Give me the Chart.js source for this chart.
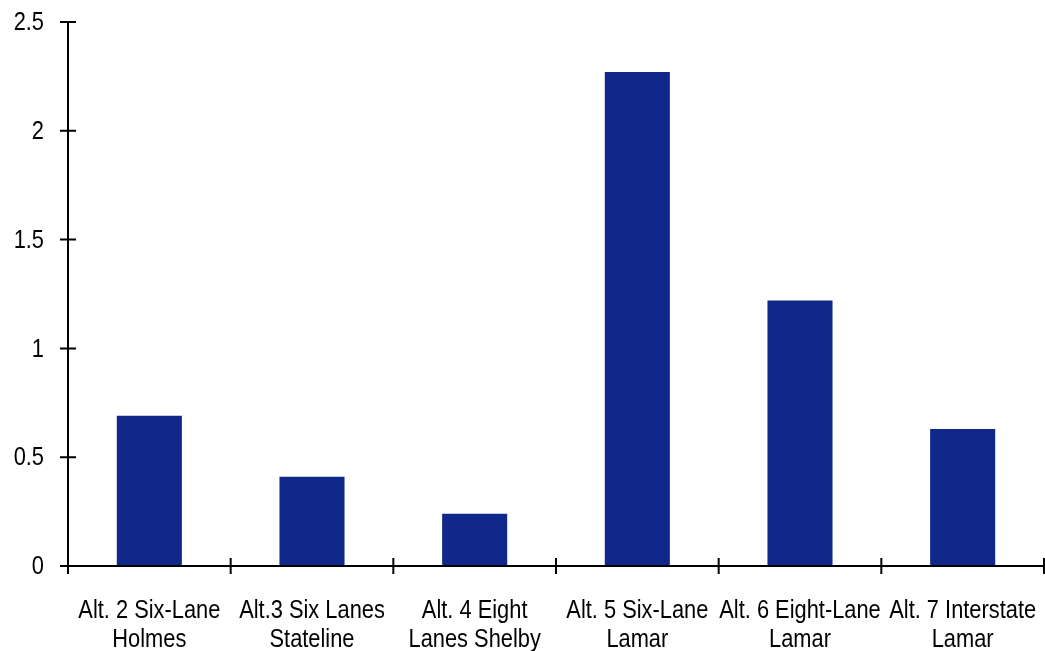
<!DOCTYPE html>
<html>
<head>
<meta charset="utf-8">
<script src="https://cdn.jsdelivr.net/npm/chart.js@4/dist/chart.umd.min.js"></script>
<style>
  html, body { margin: 0; padding: 0; background: #ffffff; }
  #wrap { width: 1045px; height: 651px; position: relative; }
</style>
</head>
<body>
<div id="wrap"><canvas id="c" width="1045" height="651"></canvas></div>
<script>
// Categories (two-line labels) and values per alternative
const categories = [
  ['Alt. 2 Six-Lane', 'Holmes'],
  ['Alt.3 Six Lanes', 'Stateline'],
  ['Alt. 4 Eight', 'Lanes Shelby'],
  ['Alt. 5 Six-Lane', 'Lamar'],
  ['Alt. 6 Eight-Lane', 'Lamar'],
  ['Alt. 7 Interstate', 'Lamar']
];
const values = [0.69, 0.41, 0.24, 2.27, 1.22, 0.63];
const yTicks = [0, 0.5, 1, 1.5, 2, 2.5];

const FONT = '"Liberation Sans", Arial, sans-serif';
const FONT_SIZE = 26;
const SQUEEZE = 0.84;      // horizontal compression for a narrow face
const INK = '#000000';

// Draws condensed text centred/right-aligned at (x, y)
function narrowText(ctx, text, x, y, align) {
  ctx.save();
  ctx.translate(x, y);
  ctx.scale(SQUEEZE, 1);
  ctx.textAlign = align;
  ctx.fillText(text, 0, 0);
  ctx.restore();
}

// Axis lines, crossing tick marks and condensed tick labels
const axesDecor = {
  id: 'axesDecor',
  afterDraw(chart) {
    const ctx = chart.ctx;
    const x = chart.scales.x, y = chart.scales.y;
    const a = chart.chartArea;
    const step = (a.right - a.left) / categories.length;
    ctx.save();
    ctx.strokeStyle = INK;
    ctx.lineWidth = 2;
    ctx.beginPath();
    ctx.moveTo(a.left, a.top);
    ctx.lineTo(a.left, a.bottom);
    ctx.moveTo(a.left, a.bottom);
    ctx.lineTo(a.right, a.bottom);
    yTicks.forEach(v => {
      const py = y.getPixelForValue(v);
      ctx.moveTo(a.left - 8, py);
      ctx.lineTo(v === 0 ? a.left : a.left + 8, py);
    });
    for (let i = 0; i <= categories.length; i++) {
      const px = i < categories.length ? x.getPixelForTick(i) - step / 2
                                       : x.getPixelForTick(i - 1) + step / 2;
      ctx.moveTo(px, i === 0 ? a.bottom : a.bottom - 8);
      ctx.lineTo(px, a.bottom + 8);
    }
    ctx.stroke();

    ctx.fillStyle = INK;
    ctx.font = FONT_SIZE + 'px ' + FONT;
    ctx.textBaseline = 'middle';
    yTicks.forEach(v => {
      narrowText(ctx, String(v), a.left - 24, y.getPixelForValue(v) + 1, 'right');
    });
    ctx.textBaseline = 'alphabetic';
    categories.forEach((lines, i) => {
      const cx = x.getPixelForTick(i);
      lines.forEach((t, j) => {
        narrowText(ctx, t, cx, a.bottom + 52 + j * 29, 'center');
      });
    });
    ctx.restore();
  }
};

new Chart(document.getElementById('c'), {
  type: 'bar',
  data: {
    labels: categories,
    datasets: [{
      data: values,
      backgroundColor: '#10288a',
      borderWidth: 0,
      barPercentage: 0.4,
      categoryPercentage: 1.0
    }]
  },
  options: {
    responsive: false,
    animation: false,
    layout: { padding: { top: 22, right: 1, left: 0, bottom: 0 } },
    plugins: { legend: { display: false }, tooltip: { enabled: false } },
    scales: {
      x: {
        offset: true,
        grid: { display: false },
        border: { display: false },
        ticks: { display: false },
        afterFit(s) {
          s.height = 85;
          s.paddingLeft = 0; s.paddingRight = 0;
        }
      },
      y: {
        min: 0,
        max: 2.5,
        afterBuildTicks(s) { s.ticks = yTicks.map(v => ({ value: v })); },
        grid: { display: false },
        border: { display: false },
        ticks: { display: false },
        afterFit(s) {
          s.width = 68;
          s.paddingTop = 0; s.paddingBottom = 0;
        }
      }
    }
  },
  plugins: [axesDecor]
});
</script>
</body>
</html>
